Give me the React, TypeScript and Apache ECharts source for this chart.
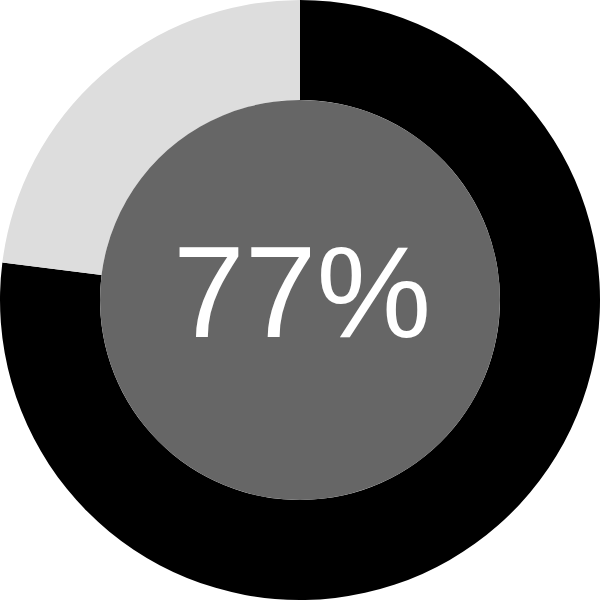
import { useEffect, useRef } from 'react';
import * as echarts from 'echarts';

const categories = ['done', 'rest'];
const values = [77, 23];
const colors = ['#000000', '#dddddd'];
const centerLabel = '77%';

export default function App() {
  const ref = useRef<HTMLDivElement>(null);

  useEffect(() => {
    if (!ref.current) return;
    const chart = echarts.init(ref.current, undefined, { renderer: 'svg' });
    chart.setOption({
      animation: false,
      graphic: [
        {
          type: 'text',
          x: 302,
          y: 292,
          z: 10,
          silent: true,
          style: {
            text: centerLabel,
            fill: '#ffffff',
            fontSize: 129,
            fontFamily: '"Liberation Sans", Arial, sans-serif',
            align: 'center',
            verticalAlign: 'middle',
          },
        },
      ],
      series: [
        {
          type: 'pie',
          radius: [200, 300],
          center: [300, 300],
          startAngle: 90,
          clockwise: true,
          silent: true,
          label: { show: false },
          labelLine: { show: false },
          data: categories.map((name, i) => ({
            name,
            value: values[i],
            itemStyle: { color: colors[i] },
          })),
        },
        {
          type: 'pie',
          radius: [0, 200],
          center: [300, 300],
          silent: true,
          label: { show: false },
          labelLine: { show: false },
          data: [{ name: 'inner', value: 1, itemStyle: { color: '#666666' } }],
        },
      ],
    });
    return () => chart.dispose();
  }, []);

  return (
    <div
      ref={ref}
      style={{ position: 'absolute', left: 0, top: 0, width: 600, height: 600 }}
    />
  );
}
